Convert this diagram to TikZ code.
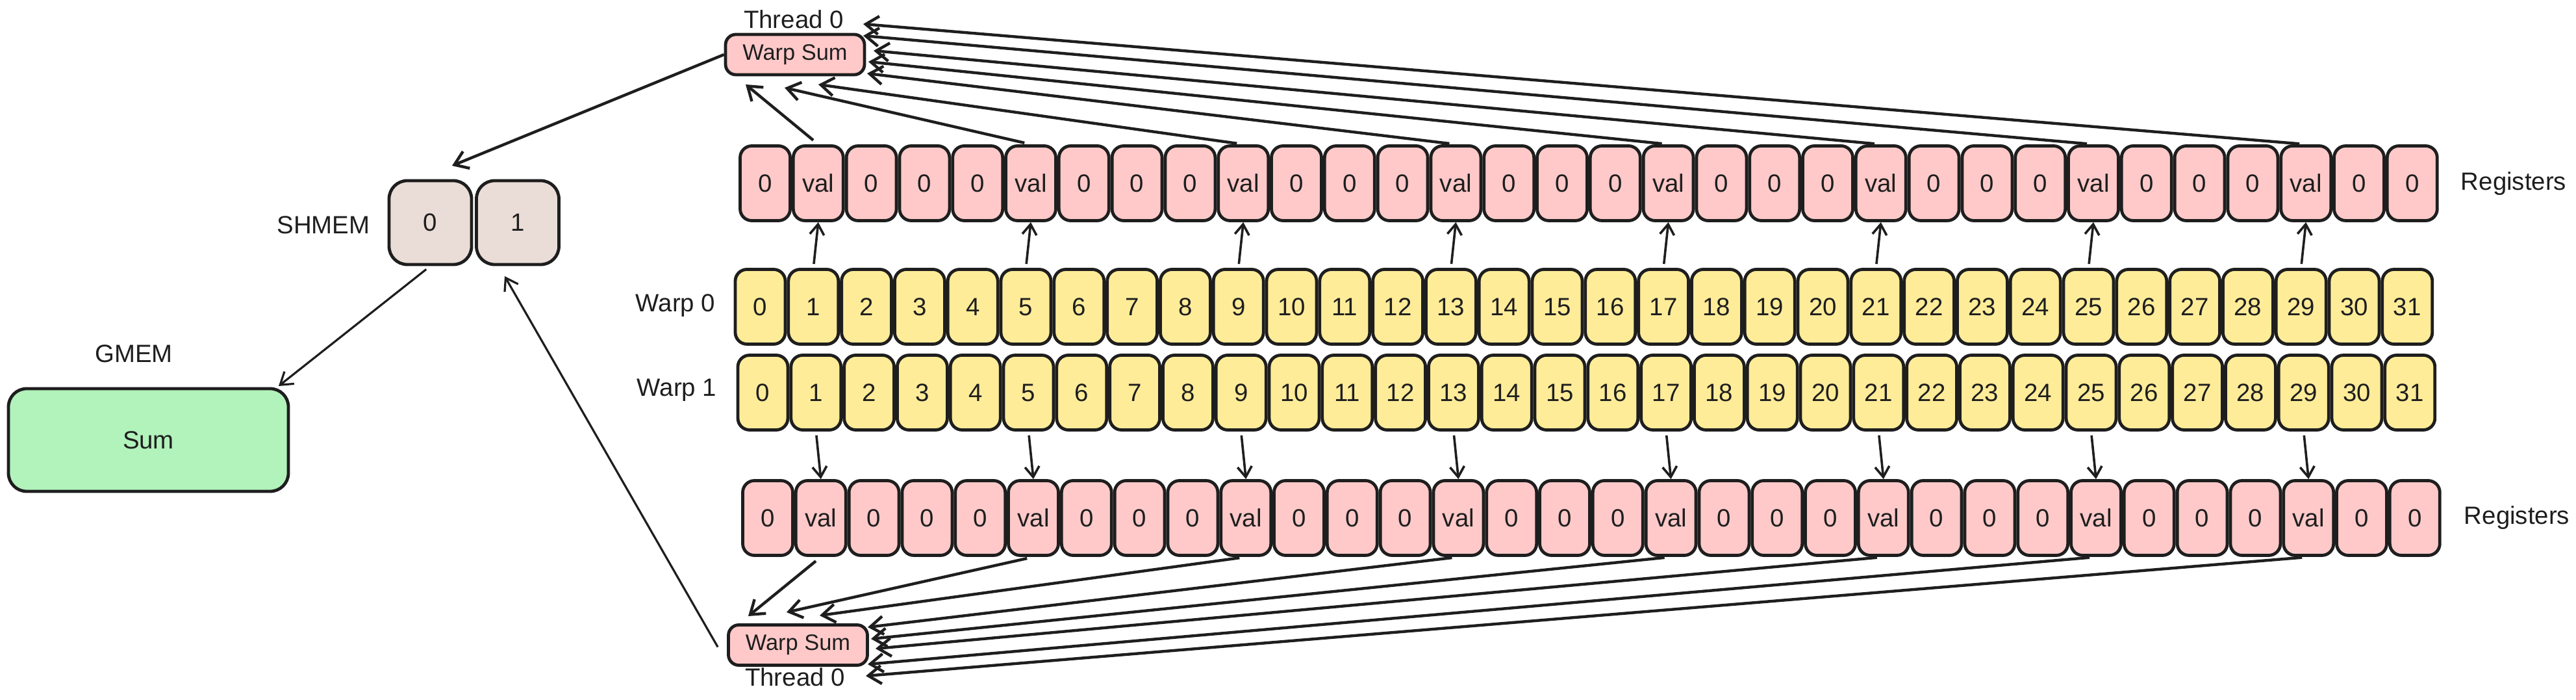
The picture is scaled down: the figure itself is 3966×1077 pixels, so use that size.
\documentclass[tikz,border=0pt]{standalone}
\usepackage{fontspec}
\setmainfont{Liberation Sans}
\usetikzlibrary{arrows.meta,calc}
\definecolor{regfill}{HTML}{FFC9C9}
\definecolor{warpfill}{HTML}{FFEC99}
\definecolor{gmemfill}{HTML}{B2F2BB}
\definecolor{shfill}{HTML}{EADDD7}
\definecolor{ink}{HTML}{1E1E1E}
\begin{document}
\begin{tikzpicture}[x=0.25pt,y=-0.25pt,
  font=\fontsize{9.6}{11}\selectfont,
  cell/.style={draw=ink, line width=1.2pt, rounded corners=4.5pt, minimum width=19.25pt, minimum height=28.75pt, inner sep=0pt, text=ink},
  reg/.style={cell, fill=regfill},
  lane/.style={cell, fill=warpfill},
  sumbox/.style={draw=ink, line width=1.2pt, rounded corners=4pt, fill=regfill, minimum width=53.5pt, minimum height=15.5pt, inner sep=0pt, text=ink, font=\fontsize{8.6}{10}\selectfont},
  shbox/.style={draw=ink, line width=1.2pt, rounded corners=7pt, fill=shfill, minimum width=31.75pt, minimum height=32.25pt, inner sep=0pt, text=ink},
  gbox/.style={draw=ink, line width=1.2pt, rounded corners=7pt, fill=gmemfill, minimum width=107.75pt, minimum height=39.5pt, inner sep=0pt, text=ink},
  lbl/.style={text=ink, inner sep=0pt},
  link/.style={draw=ink, line width=1.1pt, -{Straight Barb[length=5pt,width=7pt]}},
  thinlink/.style={draw=ink, line width=0.8pt, -{Straight Barb[length=4.5pt,width=6pt]}},
  lift/.style={draw=ink, line width=0.9pt, -{Straight Barb[length=4pt,width=5.5pt]}}
]
\useasboundingbox (0,0) rectangle (3966,1077);

% rows of cells
\foreach \i in {0,...,31}{
  \pgfmathtruncatemacro\m{mod(\i,4)}
  \ifnum\m=1 \def\v{val}\else\def\v{0}\fi
  \node[reg]  (rt-\i) at ({1178+81.8*\i},282) {\v};
  \node[lane] (w0-\i) at ({1170.5+81.8*\i},472) {\i};
  \node[lane] (w1-\i) at ({1174.5+81.8*\i},604) {\i};
  \node[reg]  (rb-\i) at ({1182+81.8*\i},797) {\v};
}

% labels
\node[lbl] (regtop) at (3870,283) {Registers};
\node[lbl] (regbot) at (3875,797) {Registers};
\node[lbl] (warp0) at (1040,470) {Warp 0};
\node[lbl] (warp1) at (1042,600) {Warp 1};

% warp sums
\node[sumbox] (wstop) at (1224,84) {Warp Sum};
\node[lbl] (thtop) at (1222,30) {Thread 0};
\node[sumbox] (wsbot) at (1228.5,992.5) {Warp Sum};
\node[lbl] (thbot) at (1224,1042) {Thread 0};

% shared memory
\node[shbox] (sh0) at (662.5,342.5) {0};
\node[shbox] (sh1) at (797,342.5) {1};
\node[lbl] (shlbl) at (498,346) {SHMEM};

% global memory
\node[lbl] (glbl) at (206,544) {GMEM};
\node[gbox] (gsum) at (228.5,677) {Sum};

% lane -> register arrows
\foreach \i in {1,5,9,13,17,21,25,29}{
  \draw[lift, shorten <=1.5pt] (w0-\i.north) -- (rt-\i.south);
  \draw[lift, shorten <=1.5pt] (w1-\i.south) -- (rb-\i.north);
}

% register -> warp sum (top)
\foreach \i/\tx/\ty in {1/1148/130, 5/1208/135, 9/1260/130, 13/1335/113, 17/1337/95, 21/1345/78, 25/1329/55, 29/1329/37}{
  \coordinate (tt-\i) at (\tx,\ty);
  \draw[link, shorten <=2.5pt] (rt-\i.north) -- (tt-\i);
}

% register -> warp sum (bottom)
\foreach \i/\tx/\ty in {1/1152/948, 5/1211/942, 9/1262/947, 13/1336/965, 17/1341/983, 21/1348/998, 25/1336/1022, 29/1333/1040}{
  \coordinate (tb-\i) at (\tx,\ty);
  \draw[link, shorten <=2.5pt] (rb-\i.south) -- (tb-\i);
}

% warp sums -> shared memory -> global memory
\coordinate (shin0) at (696,255);
\coordinate (shin1) at (777,425);
\coordinate (gin) at (429,594);
\draw[link] (wstop.west) -- (shin0);
\draw[thinlink, shorten <=2pt] (sh0.south) -- (gin);
\draw[thinlink] ([xshift=-3.5pt,yshift=-0.75pt]wsbot.west) -- (shin1);
\end{tikzpicture}
\end{document}
